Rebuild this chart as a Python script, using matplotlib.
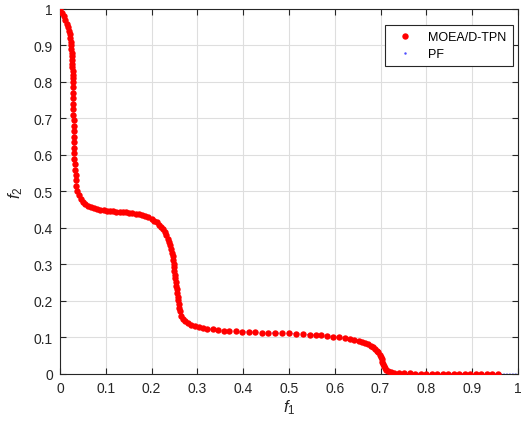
import matplotlib
matplotlib.use("Agg")
import matplotlib.pyplot as plt
from matplotlib.lines import Line2D

plt.rcParams['font.family'] = ['Liberation Sans', 'DejaVu Sans']
plt.rcParams['mathtext.fontset'] = 'custom'
plt.rcParams['mathtext.it'] = 'Liberation Sans:italic'
plt.rcParams['mathtext.rm'] = 'Liberation Sans'

# MOEA/D-TPN solutions
moead_f1 = [0.0, 0.005, 0.009, 0.012, 0.015, 0.018, 0.019, 0.021, 0.022, 0.023,
            0.024, 0.025, 0.0255, 0.026, 0.0265, 0.027, 0.027, 0.0275, 0.028, 0.028,
            0.0285, 0.0285, 0.029, 0.029, 0.029, 0.029, 0.029, 0.0295, 0.0295, 0.030,
            0.030, 0.0305, 0.031, 0.031, 0.0315, 0.032, 0.033, 0.034, 0.035, 0.036,
            0.038, 0.041, 0.045, 0.050, 0.055, 0.061, 0.067, 0.074, 0.081, 0.088,
            0.095, 0.102, 0.109, 0.116, 0.123, 0.130, 0.137, 0.144, 0.151, 0.158,
            0.165, 0.172, 0.179, 0.186, 0.193, 0.200, 0.206, 0.211, 0.216, 0.221,
            0.225, 0.229, 0.232, 0.235, 0.238, 0.241, 0.243, 0.245, 0.246, 0.247,
            0.248, 0.249, 0.250, 0.251, 0.252, 0.253, 0.254, 0.255, 0.256, 0.257,
            0.258, 0.259, 0.260, 0.262, 0.264, 0.268, 0.273, 0.279, 0.286, 0.294,
            0.303, 0.312, 0.322, 0.333, 0.345, 0.357, 0.370, 0.384, 0.398, 0.412,
            0.426, 0.440, 0.455, 0.470, 0.485, 0.500, 0.515, 0.530, 0.545, 0.558,
            0.570, 0.583, 0.597, 0.610, 0.622, 0.633, 0.643, 0.652, 0.660, 0.667,
            0.673, 0.679, 0.684, 0.688, 0.692, 0.695, 0.698, 0.700, 0.702, 0.704,
            0.705, 0.707, 0.709, 0.712, 0.716, 0.722, 0.730, 0.740, 0.752, 0.764,
            0.776, 0.788, 0.800, 0.812, 0.824, 0.836, 0.848, 0.860, 0.872, 0.884,
            0.896, 0.908, 0.920, 0.932, 0.944, 0.956]
moead_f2 = [1.0, 0.99, 0.98, 0.97, 0.96, 0.95, 0.94, 0.93, 0.92, 0.91,
            0.90, 0.89, 0.88, 0.87, 0.86, 0.85, 0.84, 0.83, 0.82, 0.81,
            0.80, 0.785, 0.77, 0.755, 0.74, 0.725, 0.71, 0.695, 0.68, 0.665,
            0.65, 0.635, 0.62, 0.605, 0.59, 0.575, 0.56, 0.545, 0.53, 0.515,
            0.50, 0.49, 0.48, 0.472, 0.466, 0.461, 0.457, 0.454, 0.451, 0.449,
            0.448, 0.447, 0.446, 0.446, 0.445, 0.445, 0.444, 0.443, 0.442, 0.441,
            0.439, 0.437, 0.435, 0.432, 0.429, 0.425, 0.420, 0.415, 0.409, 0.403,
            0.396, 0.388, 0.380, 0.371, 0.362, 0.352, 0.342, 0.332, 0.322, 0.312,
            0.302, 0.292, 0.282, 0.272, 0.262, 0.252, 0.242, 0.232, 0.222, 0.212,
            0.202, 0.192, 0.182, 0.172, 0.160, 0.150, 0.144, 0.139, 0.135, 0.131,
            0.128, 0.126, 0.124, 0.122, 0.120, 0.119, 0.118, 0.117, 0.116, 0.115,
            0.114, 0.113, 0.113, 0.112, 0.112, 0.111, 0.110, 0.109, 0.108, 0.107,
            0.106, 0.104, 0.102, 0.100, 0.098, 0.096, 0.093, 0.090, 0.087, 0.084,
            0.081, 0.077, 0.073, 0.069, 0.064, 0.059, 0.053, 0.047, 0.041, 0.034,
            0.028, 0.022, 0.016, 0.011, 0.008, 0.006, 0.004, 0.003, 0.002, 0.002,
            0.001, 0.001, 0.001, 0.001, 0.0, 0.0, 0.0, 0.0, 0.0, 0.0,
            0.0, 0.0, 0.0, 0.0, 0.0, 0.0]

# true Pareto front
pf_f1 = [0.0, 0.018, 0.024, 0.027, 0.0285, 0.029, 0.031, 0.033, 0.038, 0.045,
         0.061, 0.09, 0.135, 0.17, 0.2, 0.225, 0.24, 0.247, 0.253, 0.258,
         0.262, 0.268, 0.28, 0.306, 0.35, 0.44, 0.52, 0.597, 0.633, 0.655,
         0.677, 0.692, 0.702, 0.707, 0.715, 0.735, 0.8, 1.0]
pf_f2 = [1.0, 0.95, 0.9, 0.85, 0.8, 0.7, 0.6, 0.55, 0.5, 0.48,
         0.461, 0.449, 0.445, 0.438, 0.425, 0.397, 0.36, 0.32, 0.28, 0.22,
         0.18, 0.15, 0.138, 0.127, 0.119, 0.113, 0.11, 0.102, 0.096, 0.089,
         0.079, 0.064, 0.042, 0.022, 0.009, 0.004, 0.001, 0.0]

dark = '#262626'
fig = plt.figure(figsize=(5.31, 4.31), dpi=100)
ax = fig.add_axes([0.113, 0.130, 0.8625, 0.847])

ax.plot(pf_f1, pf_f2, ':', color='#4d4dff', lw=0.8, zorder=2)
ax.plot(moead_f1, moead_f2, 'o', color='red', ms=4.6, mec='none', zorder=3)

ax.set_xlim(0, 1)
ax.set_ylim(0, 1)
ax.set_xticks([i / 10 for i in range(11)])
ax.set_yticks([i / 10 for i in range(11)])
ax.set_xticklabels(['0', '0.1', '0.2', '0.3', '0.4', '0.5', '0.6', '0.7', '0.8', '0.9', '1'])
ax.set_yticklabels(['0', '0.1', '0.2', '0.3', '0.4', '0.5', '0.6', '0.7', '0.8', '0.9', '1'])
ax.grid(True, color='#dedede', lw=0.8)
ax.set_axisbelow(True)
ax.tick_params(direction='in', top=True, right=True, length=4, width=0.8,
               colors=dark, labelsize=10, pad=5)
for s in ax.spines.values():
    s.set_color(dark)
    s.set_linewidth(0.8)

ax.set_xlabel(r'$f_{\mathrm{1}}$', fontsize=12, color=dark, labelpad=2)
ax.set_ylabel(r'$f_{\mathrm{2}}$', fontsize=12, color=dark, labelpad=6)

handles = [Line2D([], [], ls='none', marker='o', color='red', ms=4.6, mec='none'),
           Line2D([], [], ls='none', marker='.', color='#4d4dff', ms=1.5)]
leg = ax.legend(handles, ['MOEA/D-TPN', 'PF'], loc='upper right',
                bbox_to_anchor=(0.989, 0.956), fontsize=9, fancybox=False,
                edgecolor=dark, framealpha=1, borderpad=0.5, handlelength=2.2,
                labelspacing=0.4, borderaxespad=0)
leg.get_frame().set_linewidth(0.8)

fig.savefig('out.png', dpi=100)
